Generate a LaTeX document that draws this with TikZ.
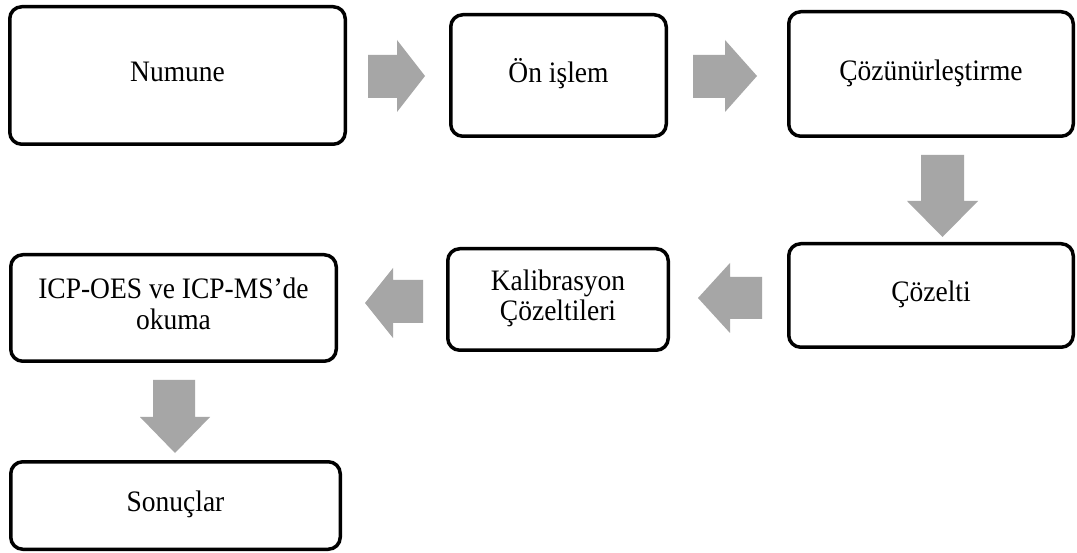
\documentclass[tikz,border=0pt]{standalone}
\usepackage{fontspec}
\setmainfont{Liberation Serif}
\definecolor{arrowgray}{RGB}{166,166,166}
\newcommand\boxtext[1]{\scalebox{1}[1.08]{\begin{tabular}{@{}c@{}}#1\end{tabular}}}
\begin{document}
\begin{tikzpicture}[x=1pt,y=-1pt,
  stepbox/.style={draw=black,line width=3.5pt,rounded corners=12pt,fill=white,
    align=center,inner sep=0pt,font=\fontsize{27.5}{28}\selectfont},
  blockarrow/.style={fill=arrowgray,draw=none}]
\useasboundingbox[fill=white] (0,0) rectangle (1077,553);

\node[stepbox,minimum width=335.5pt,minimum height=137.5pt] (numune) at (177.5,75.5) {\boxtext{Numune}};
\node[stepbox,minimum width=215.5pt,minimum height=121.5pt] (onislem) at (558.5,75.5) {\boxtext{Ön işlem}};
\node[stepbox,minimum width=284.5pt,minimum height=124.5pt] (cozun) at (931,74) {\boxtext{Çözünürleştirme}};
\node[stepbox,minimum width=284.5pt,minimum height=103.5pt] (cozelti) at (931,295.5) {\boxtext{Çözelti}};
\node[stepbox,minimum width=220.5pt,minimum height=101.5pt] (kalib) at (558,299.5) {\boxtext{Kalibrasyon\\Çözeltileri}};
\node[stepbox,minimum width=325.5pt,minimum height=106.5pt] (icp) at (173.5,308) {\boxtext{ICP-OES ve ICP-MS’de\\okuma}};
\node[stepbox,minimum width=329.5pt,minimum height=87.5pt] (sonuc) at (175.5,505.5) {\boxtext{Sonuçlar}};

% right arrows
\fill[blockarrow] (368,55) -- (397,55) -- (397,40) -- (425,76) -- (397,112) -- (397,98) -- (368,98) -- cycle;
\fill[blockarrow] (693,55) -- (725,55) -- (725,40) -- (757,76) -- (725,112) -- (725,98) -- (693,98) -- cycle;
% down arrow right column
\fill[blockarrow] (921,155) -- (964,155) -- (964,201) -- (978,201) -- (942.5,237) -- (907,201) -- (921,201) -- cycle;
% left arrows
\fill[blockarrow] (762,277) -- (730,277) -- (730,263) -- (698,298) -- (730,333) -- (730,319) -- (762,319) -- cycle;
\fill[blockarrow] (423,280) -- (393,280) -- (393,268) -- (365,303) -- (393,338) -- (393,323) -- (423,323) -- cycle;
% down arrow left column
\fill[blockarrow] (153,380) -- (195,380) -- (195,417) -- (210,417) -- (175,453) -- (140,417) -- (153,417) -- cycle;
\end{tikzpicture}
\end{document}
